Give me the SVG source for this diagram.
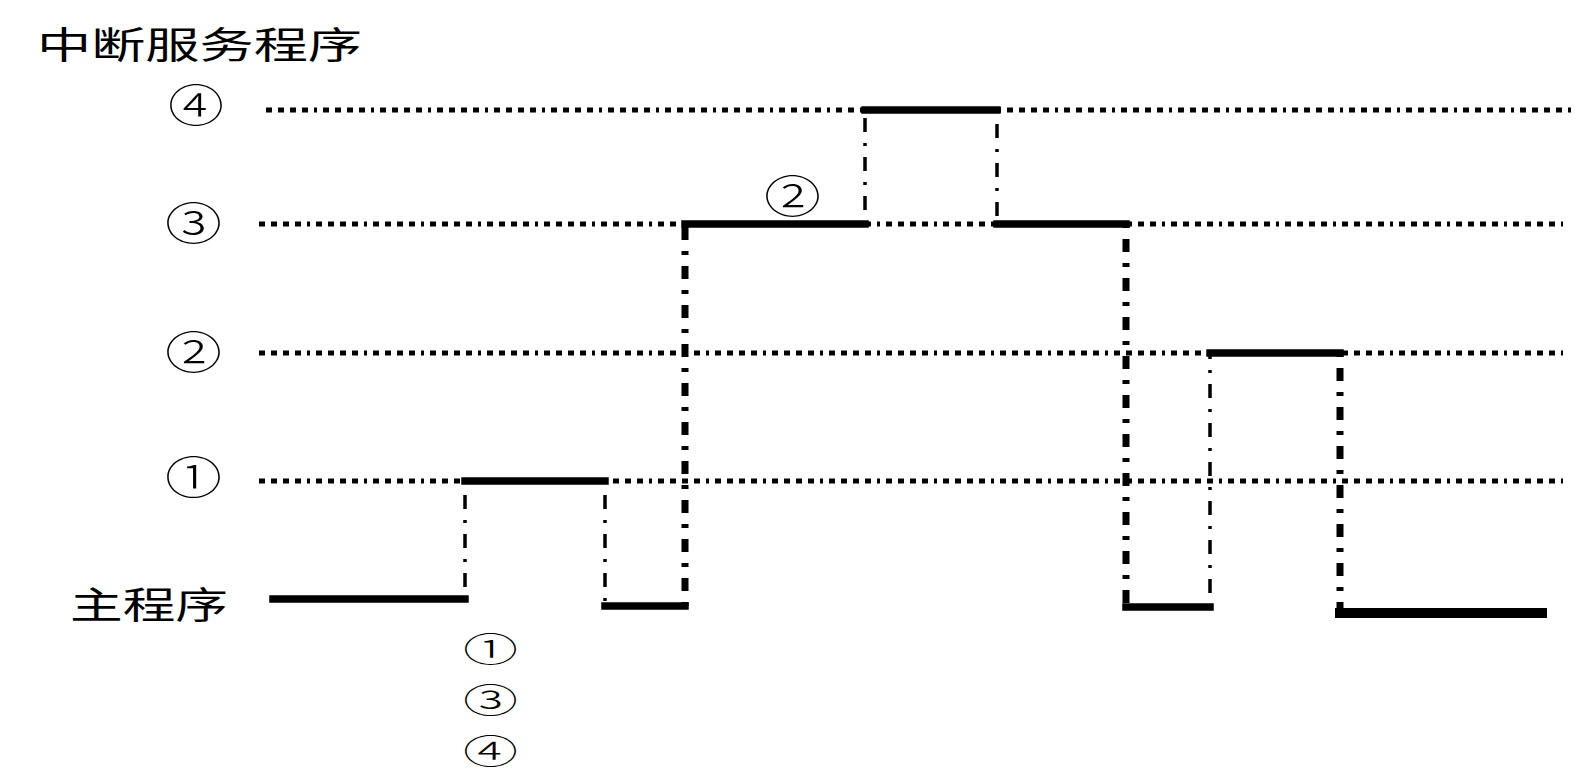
<svg xmlns="http://www.w3.org/2000/svg" width="1590" height="782" viewBox="0 0 1590 782">
<style>
  text { font-family: "Noto Sans CJK SC", "Noto Sans", sans-serif; fill: #000; }
  .t { font-size: 37px; }
  .n { font-size: 44px; font-weight: 300; }
  .s { font-size: 34.5px; font-weight: 300; }
  .ref { stroke: #000; stroke-width: 5; fill: none; stroke-dasharray: 6 6 6 6 6 6 6 6 3 6; }
  .thick { stroke: #000; stroke-width: 7.5; fill: none; stroke-linecap: square; }
  .vthin { stroke: #000; stroke-width: 3.5; fill: none; stroke-dasharray: 3 11 14 11; }
  .vthick { stroke: #000; stroke-width: 7; fill: none; stroke-dasharray: 4 11 13 11; }
</style>
<rect width="1590" height="782" fill="#fff"/>
<g id="title">
  <text class="t" x="37" y="59" textLength="325" lengthAdjust="spacingAndGlyphs">中断服务程序</text>
</g>
<g id="levels">
  <g id="level4"><line class="ref" x1="266" y1="110" x2="1573" y2="110"/><text class="n" x="168" y="122" textLength="56" lengthAdjust="spacingAndGlyphs">④</text></g>
  <g id="level3"><line class="ref" x1="259" y1="224" x2="1563" y2="224"/><text class="n" x="165" y="240" textLength="57" lengthAdjust="spacingAndGlyphs">③</text></g>
  <g id="level2"><line class="ref" x1="259" y1="353" x2="1563" y2="353"/><text class="n" x="165" y="369" textLength="57" lengthAdjust="spacingAndGlyphs">②</text></g>
  <g id="level1"><line class="ref" x1="259" y1="481" x2="1563" y2="481"/><text class="n" x="165" y="494" textLength="57" lengthAdjust="spacingAndGlyphs">①</text></g>
  <g id="main-label"><text class="t" x="70" y="619" textLength="158" lengthAdjust="spacingAndGlyphs">主程序</text></g>
</g>
<g id="connectors">
  <line class="vthin" x1="465" y1="481" x2="465" y2="599"/>
  <line class="vthin" x1="605" y1="481" x2="605" y2="606"/>
  <line class="vthick" x1="685" y1="606" x2="685" y2="224"/>
  <line class="vthin" x1="865" y1="224" x2="865" y2="110"/>
  <line class="vthin" x1="997" y1="110" x2="997" y2="224"/>
  <line class="vthick" x1="1126" y1="224" x2="1126" y2="607"/>
  <line class="vthin" x1="1210" y1="607" x2="1210" y2="353"/>
  <line class="vthick" x1="1340" y1="353" x2="1340" y2="613"/>
</g>
<g id="signal">
  <line class="thick" x1="273" y1="599" x2="465" y2="599"/>
  <line class="thick" x1="465" y1="481" x2="605" y2="481"/>
  <line class="thick" x1="605" y1="606" x2="685" y2="606"/>
  <line class="thick" x1="685" y1="224" x2="865" y2="224"/>
  <line class="thick" x1="865" y1="110" x2="997" y2="110"/>
  <line class="thick" x1="997" y1="224" x2="1126" y2="224"/>
  <line class="thick" x1="1126" y1="607" x2="1210" y2="607"/>
  <line class="thick" x1="1210" y1="353" x2="1340" y2="353"/>
  <line class="thick" x1="1340" y1="613" x2="1542" y2="613" style="stroke-width:10"/>
</g>
<g id="labels">
  <text class="n" x="764" y="213" textLength="57" lengthAdjust="spacingAndGlyphs">②</text>
  <text class="s" x="463" y="662" textLength="55" lengthAdjust="spacingAndGlyphs">①</text>
  <text class="s" x="463" y="713" textLength="55" lengthAdjust="spacingAndGlyphs">③</text>
  <text class="s" x="463" y="764" textLength="55" lengthAdjust="spacingAndGlyphs">④</text>
</g>
</svg>
